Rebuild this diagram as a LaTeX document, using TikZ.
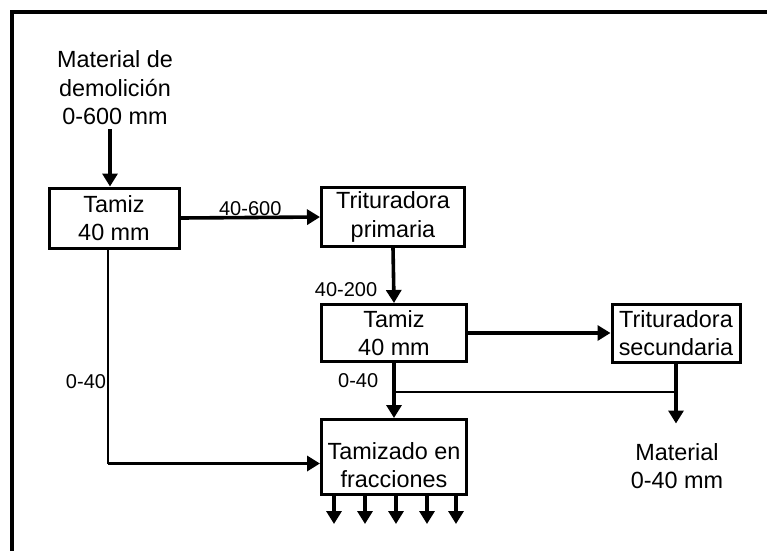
\documentclass[tikz,border=0pt]{standalone}
\usepackage{fontspec}
\setmainfont{Liberation Sans}
\usepackage{tikz}
\usetikzlibrary{arrows.meta,calc}

\begin{document}
\begin{tikzpicture}[x=1pt, y=-1pt,
    every node/.style={font=\fontsize{23.4}{28.5}\selectfont},
    unit/.style={draw, line width=3pt, align=center, inner sep=0pt},
    lbl/.style={font=\fontsize{20}{24}\selectfont, inner sep=1pt},
    flow/.style={line width=3.6pt, -{Triangle[length=13pt,width=15pt]}},
    feed/.style={line width=2pt}]
  \useasboundingbox (0,0) rectangle (767,550);
  \clip (0,0) rectangle (767,550);
  \draw[line width=3.6pt] (12,600) -- (12,12) -- (800,12);

  % plant units
  \node[align=center, inner sep=0pt] (demol) at (115,88) {Material de\\demolición\\0-600 mm};
  \node[unit, minimum width=130pt, minimum height=60pt] (sieveA) at (114,218) {Tamiz\\40 mm};
  \node[unit, minimum width=143pt, minimum height=59pt] (crushA) at (393,217) {Trituradora\\primaria};
  \node[unit, minimum width=145pt, minimum height=57pt] (sieveB) at (394,333) {Tamiz\\40 mm};
  \node[unit, minimum width=128pt, minimum height=58pt] (crushB) at (676,333) {Trituradora\\secundaria};
  \node[unit, minimum width=145pt, minimum height=75pt] (grade) at (394,457) {};
  \node[align=center, inner sep=0pt, yshift=-8pt] (gradetxt) at (grade.center) {Tamizado en\\fracciones};
  \node[align=center, inner sep=0pt] (fines) at (677,466) {Material\\0-40 mm};

  % flows
  \draw[flow] ([xshift=-5pt]demol.south) ++(0,4) -- ([xshift=-4pt]sieveA.north);
  \draw[flow] (sieveA.east) -- node[lbl, above, inner sep=0pt] {40-600} (crushA.west);
  \draw[flow] (crushA.south) -- node[lbl, at end, anchor=south east, xshift=-14pt, yshift=4pt] {40-200} (sieveB.north);
  \draw[flow] (sieveB.east) -- (crushB.west);
  \draw[flow] (sieveB.south) -- node[lbl, anchor=base east, xshift=-13pt, yshift=3pt] {0-40} (grade.north);
  \coordinate (tap) at ($(crushB.south)+(0,28)$);
  \draw[feed] (sieveB.south |- tap) -- (tap);
  \coordinate (out) at ($(crushB.south)+(0,60)$);
  \draw[flow] (crushB.south) -- (out);
  \coordinate (bend) at ($(sieveA.south)+(-6,214)$);
  \draw[feed] ([xshift=-6pt]sieveA.south) -- node[lbl, pos=0.65, anchor=base east] {0-40} (bend);
  \draw[flow] (bend) -- (bend -| grade.west);
  \foreach \dx in {-60,-29,2,33,62}
    \draw[flow] ([xshift=\dx pt]grade.south) -- ++(0,28);
\end{tikzpicture}
\end{document}
